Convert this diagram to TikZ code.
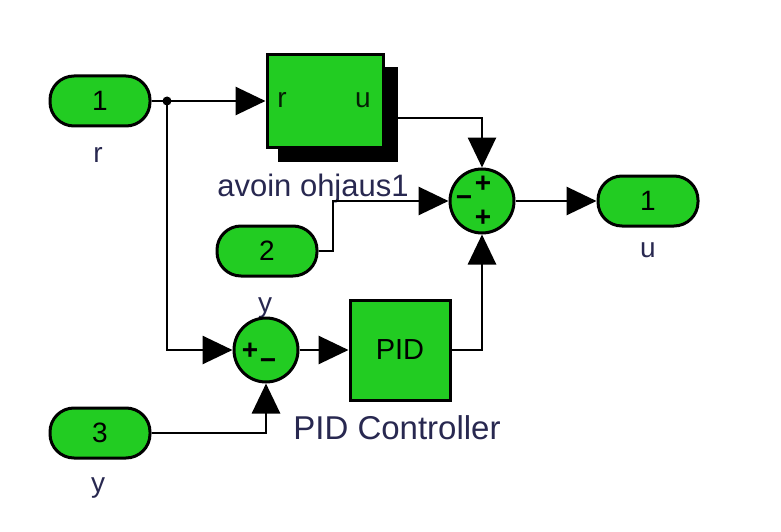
\documentclass[tikz,border=0pt]{standalone}
\usepackage{fontspec}
\setmainfont{Liberation Sans}
\usetikzlibrary{arrows.meta}
\definecolor{sgreen}{RGB}{34,204,34}
\definecolor{lbl}{RGB}{40,40,80}
\begin{document}
\begin{tikzpicture}[x=1pt,y=-1pt,
 port/.style={draw=black, line width=3pt, fill=sgreen, rounded corners=24pt, minimum width=100pt, minimum height=50pt, inner sep=0pt, font=\fontsize{28}{30}\selectfont},
 sumblk/.style={circle, draw=black, line width=3pt, fill=sgreen, minimum size=64pt, inner sep=0pt},
 blk/.style={draw=black, line width=3pt, fill=sgreen, inner sep=0pt},
 wire/.style={line width=2.8pt, -{Triangle[length=30pt,width=28pt]}},
 lab/.style={text=lbl, font=\fontsize{28}{30}\selectfont, inner sep=0pt},
 blab/.style={text=lbl, font=\fontsize{31}{33}\selectfont, inner sep=0pt},
 sgn/.style={font=\bfseries\fontsize{28}{28}\selectfont, inner sep=0pt}
]
\useasboundingbox (0,0) rectangle (781,532);

% labels (drawn first so blocks cover them)
\node[lab] (lr) at (98,155) {r};
\node[lab] (ly2) at (265,308) {y};
\node[lab] (ly3) at (98,488) {y};
\node[lab] (lu) at (648,250) {u};
\node[blab] (lav) at (313,188) {avoin ohjaus1};
\node[blab, font=\fontsize{33}{35}\selectfont] (lpid) at (397,428) {PID Controller};

% ports
\node[port] (in1) at (100,101) {1};
\node[port] (in2) at (267,251) {2};
\node[port] (in3) at (100,433) {3};
\node[port] (out) at (648,201) {1};

% subsystem with shadow
\fill (278,67) rectangle (398,162);
\node[blk, minimum width=116pt, minimum height=92pt] (sub) at (325,101) {};
\node[lab, text=black!85!sgreen] (pr) at (282,100) {r};
\node[lab, text=black!85!sgreen] (pu) at (363,100) {u};

% PID
\node[blk, minimum width=100pt, minimum height=100pt, font=\fontsize{29}{30}\selectfont] (pid) at (400,350) {PID};

% sums
\node[sumblk] (s1) at (266,350) {};
\node[sgn] at (250,351) {+};
\node[sgn] at (268,364) {\textminus};
\node[sumblk] (s2) at (482,201) {};
\node[sgn] at (483,184) {+};
\node[sgn] at (464,201) {\textminus};
\node[sgn] at (483,218) {+};

% connectors
\coordinate (J) at (167,101);
\coordinate (bo) at (398,118);
\coordinate (k2) at (333,251);
\draw[wire] (in1.east) -- (sub.west);
\fill (J) circle (4.5pt);
\draw[wire] (J) |- (s1.west);
\draw[wire] (in3.east) -| (s1.south);
\draw[wire] (s1.east) -- (pid.west);
\draw[wire] (pid.east) -| (s2.south);
\draw[wire] (bo) -| (s2.north);
\draw[wire] (in2.east) -- (k2) |- (s2.west);
\draw[wire] (s2.east) -- (out.west);
\end{tikzpicture}
\end{document}
